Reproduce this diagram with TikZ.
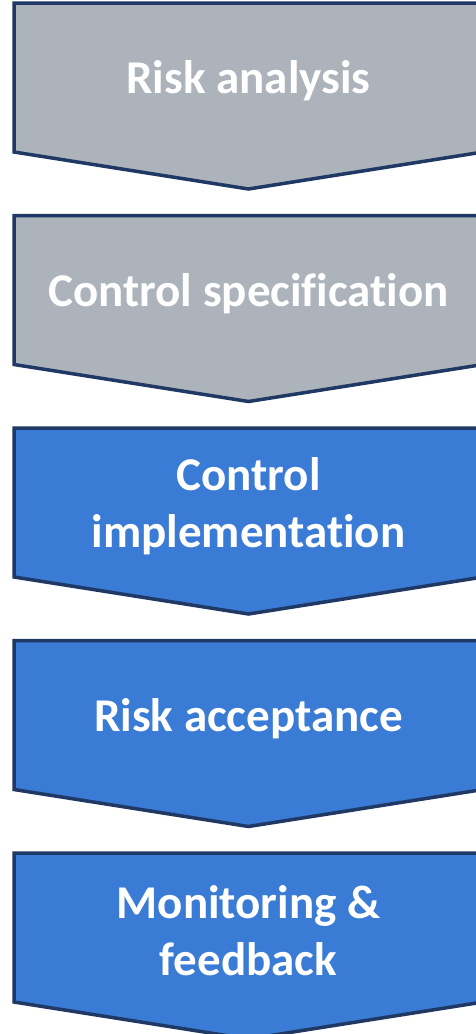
\documentclass[tikz,border=0pt]{standalone}
\usepackage{fontspec}
\setmainfont{Carlito}[Ligatures=NoCommon]
\usetikzlibrary{positioning}
\definecolor{StepGray}{HTML}{ACB3BB}
\definecolor{StepBlue}{HTML}{3A7BD5}
\definecolor{StepEdge}{HTML}{1F3864}

\begin{document}
\begin{tikzpicture}[x=1pt,y=-1pt,
                    chevron/.style={draw=StepEdge, line width=3.5pt},
                    steptext/.style={text=white, align=center,
                                     font=\fontsize{47}{57}\selectfont\bfseries}]
\useasboundingbox (0,0) rectangle (475,1034);
\foreach \ytop/\col/\id/\txt in {3/StepGray/analysis/{Risk analysis},
                                 215.5/StepGray/spec/{Control specification},
                                 428/StepBlue/impl/{Control\\ implementation},
                                 640.5/StepBlue/accept/{Risk acceptance},
                                 853/StepBlue/monitor/{Monitoring \&\\ feedback}}
{
  \draw[chevron, fill=\col] (14,\ytop) -- (483,\ytop) -- (483,\ytop+149)
        -- (248.5,\ytop+186) -- (14,\ytop+149) -- cycle;
  \node[steptext] (\id) at (248.5,\ytop+78) {\txt};
}
\end{tikzpicture}
\end{document}
